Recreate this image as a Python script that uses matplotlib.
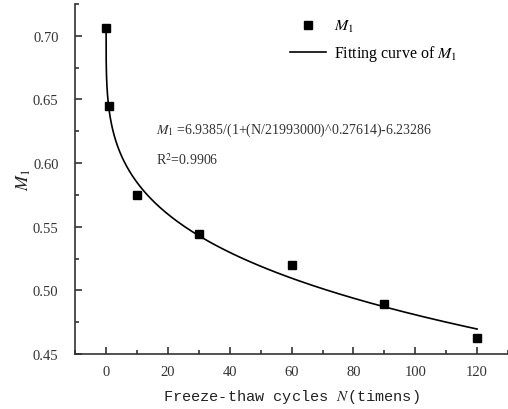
import numpy as np
import matplotlib.pyplot as plt
from matplotlib.ticker import MultipleLocator

# measured points
cycles = [0, 1, 10, 30, 60, 90, 120]
m1 = [0.706, 0.645, 0.575, 0.544, 0.520, 0.489, 0.463]

# fitting parameters printed on the chart
fit_a = 6.9385
fit_n0 = 21993000
fit_p = 0.27614
fit_b = 6.23286
r2 = 0.9906

plt.rcParams['font.family'] = ['Liberation Serif', 'DejaVu Serif']
plt.rcParams['mathtext.fontset'] = 'stix'

fig = plt.figure(figsize=(5.08, 4.10), dpi=100)
ax = fig.add_axes([0.148, 0.134, 0.852, 0.854])

n_fit = np.concatenate([[0], np.geomspace(1e-6, 120, 600)])
m_fit = fit_a / (1 + (n_fit / fit_n0) ** fit_p) - fit_b

ax.plot(cycles, m1, 's', color='black', ms=5.5, label='$M_1$', zorder=3)
ax.plot(n_fit, m_fit, '-', color='black', lw=1.2, label='Fitting curve of $M_1$')

ax.set_xlim(-10, 130)
ax.set_ylim(0.45, 0.725)
ax.xaxis.set_major_locator(MultipleLocator(20))
ax.xaxis.set_minor_locator(MultipleLocator(10))
ax.yaxis.set_major_locator(MultipleLocator(0.05))
ax.yaxis.set_minor_locator(MultipleLocator(0.025))
ax.yaxis.set_major_formatter(lambda v, p: f'{v:.2f}')

for s in ['top', 'right']:
    ax.spines[s].set_visible(False)
for s in ['left', 'bottom']:
    ax.spines[s].set_linewidth(1.2)
    ax.spines[s].set_color('#333333')
ax.tick_params(which='both', direction='in', color='#333333', width=1.2,
               labelsize=10.5, labelcolor='#333333')
ax.tick_params(which='major', length=5)
ax.tick_params(which='minor', length=3)
ax.tick_params(axis='y', which='major', pad=12)
ax.tick_params(axis='x', which='major', pad=8)

ax.set_xlabel('Freeze-thaw cycles $\\mathit{N}$(timens)', family='Liberation Mono',
              fontsize=11, color='#222222', labelpad=6)
ax.set_ylabel('$M_1$', fontsize=13, color='#222222', labelpad=0)

ax.text(16, 0.6265, '$M_1$ =6.9385/(1+(N/21993000)^0.27614)-6.23286',
        fontsize=10, color='#333333', va='center')
ax.text(16, 0.6035, f'R$^2$={r2}', fontsize=10, color='#333333', va='center')

ax.legend(loc='upper right', bbox_to_anchor=(0.915, 1.0), frameon=False, fontsize=11.5,
          handlelength=2.2, handletextpad=0.5, labelspacing=0.55)

fig.savefig('out.png', dpi=100)
